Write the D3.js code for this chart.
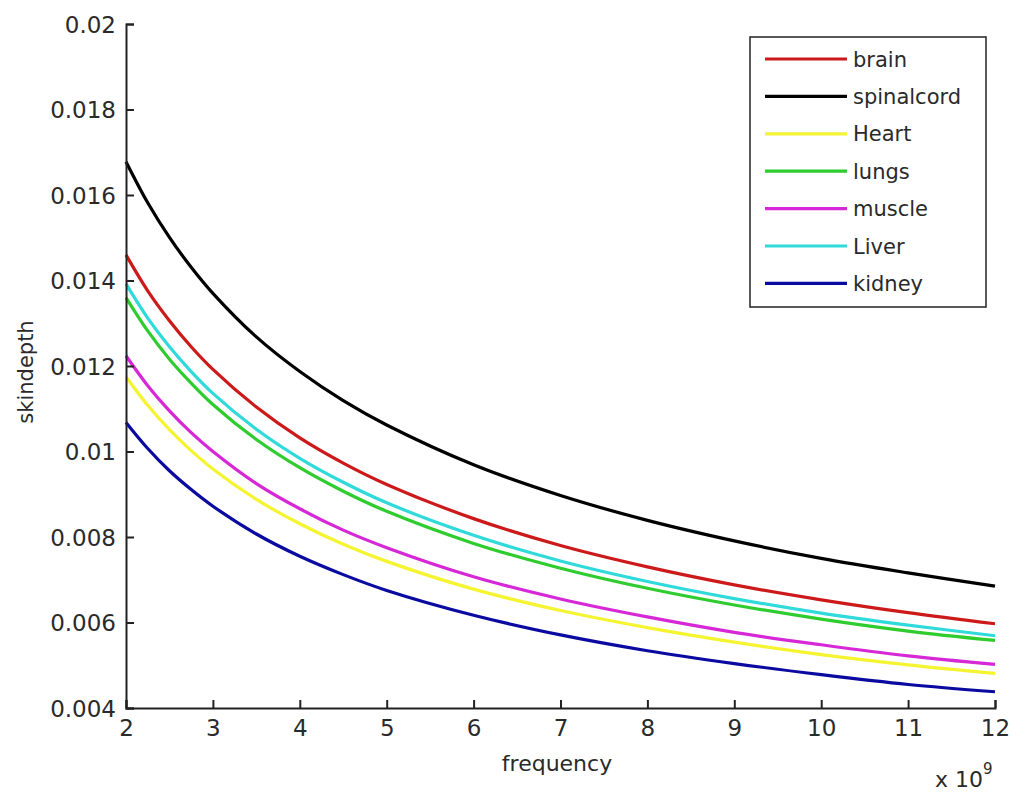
<!DOCTYPE html>
<html><head><meta charset="utf-8">
<script src="https://cdn.jsdelivr.net/npm/d3@7"></script>
<style>body{margin:0;background:#fff}svg{display:block}text{font-family:"DejaVu Sans",sans-serif;fill:#2a2a2a}</style>
</head><body>
<script>
const frequency  = [2,2.25,2.5,2.75,3,3.5,4,4.5,5,6,7,8,9,10,11,12];
const brain      = [0.01460,0.01376,0.01306,0.01245,0.01192,0.01104,0.01032,0.00973,0.00923,0.00843,0.00780,0.00730,0.00688,0.00653,0.00623,0.00597];
const spinalcord = [0.01678,0.01582,0.01501,0.01431,0.01370,0.01268,0.01187,0.01119,0.01062,0.00969,0.00897,0.00839,0.00791,0.00750,0.00716,0.00685];
const heart      = [0.01175,0.01108,0.01051,0.01002,0.00959,0.00888,0.00831,0.00783,0.00743,0.00678,0.00628,0.00588,0.00554,0.00525,0.00501,0.00481];
const lungs      = [0.01360,0.01282,0.01216,0.01160,0.01110,0.01028,0.00962,0.00907,0.00860,0.00785,0.00727,0.00680,0.00641,0.00608,0.00580,0.00558];
const muscle     = [0.01224,0.01154,0.01095,0.01044,0.01000,0.00925,0.00866,0.00816,0.00775,0.00707,0.00655,0.00613,0.00577,0.00548,0.00522,0.00502];
const liver      = [0.01392,0.01312,0.01245,0.01187,0.01136,0.01052,0.00984,0.00928,0.00880,0.00804,0.00744,0.00696,0.00656,0.00622,0.00594,0.00569];
const kidney     = [0.01068,0.01007,0.00955,0.00911,0.00872,0.00807,0.00755,0.00712,0.00675,0.00617,0.00571,0.00534,0.00504,0.00478,0.00455,0.00438];
const seriesNames = ["brain","spinalcord","Heart","lungs","muscle","Liver","kidney"];
const seriesColors = ["#cc1a1a","#000000","#f4f430","#2ecc2e","#d628d6","#30dada","#0a0aa0"];
const seriesValues = [brain,spinalcord,heart,lungs,muscle,liver,kidney];
const xTicks = [2,3,4,5,6,7,8,9,10,11,12];
const yTicks = [0.004,0.006,0.008,0.01,0.012,0.014,0.016,0.018,0.02];
const yTickLabels = ["0.004","0.006","0.008","0.01","0.012","0.014","0.016","0.018","0.02"];

const W=1009,H=792;
const svg=d3.select("body").append("svg").attr("width",W).attr("height",H);
const L=126,R=995,T=24,B=708;
const x=d3.scaleLinear().domain([2,12]).range([L,R]);
const y=d3.scaleLinear().domain([0.004,0.02]).range([B,T]);

const line=d3.line().x((d,i)=>x(frequency[i])).y(d=>y(d)).curve(d3.curveCatmullRom);

const g=svg.append("g");
seriesValues.forEach((vals,k)=>{
  g.append("path").attr("d",line(vals)).attr("fill","none")
   .attr("stroke",seriesColors[k]).attr("stroke-width",3.2);
});

// axes
const xAxis=d3.axisBottom(x).tickValues(xTicks).tickSize(-8).tickPadding(12).tickFormat(d3.format("d"));
const yAxis=d3.axisLeft(y).tickValues(yTicks).tickSize(-8).tickPadding(10).tickFormat((d,i)=>yTickLabels[i]);
const gx=svg.append("g").attr("transform",`translate(0,${B})`).call(xAxis);
const gy=svg.append("g").attr("transform",`translate(${L},0)`).call(yAxis);
[gx,gy].forEach(a=>{
  a.select(".domain").attr("stroke","#222").attr("stroke-width",2);
  a.selectAll(".tick line").attr("stroke","#222").attr("stroke-width",2);
  a.selectAll(".tick text").attr("font-size",23).attr("font-family","DejaVu Sans, sans-serif").attr("fill","#2a2a2a");
});
gy.selectAll(".tick text").attr("dy","0.36em");

// axis labels
svg.append("text").attr("x",557).attr("y",771).attr("text-anchor","middle").attr("font-size",22).text("frequency");
svg.append("text").attr("transform","translate(33,372) rotate(-90)").attr("text-anchor","middle").attr("font-size",21).text("skindepth");
const ex=svg.append("text").attr("x",935).attr("y",787).attr("font-size",22);
ex.append("tspan").text("x 10");
ex.append("tspan").attr("dy",-13).attr("font-size",15).text("9");

// legend
const lg=svg.append("g");
lg.append("rect").attr("x",750).attr("y",37).attr("width",236).attr("height",270)
  .attr("fill","#fff").attr("stroke","#222").attr("stroke-width",1.5);
seriesNames.forEach((n,k)=>{
  const yy=59+k*37.4;
  lg.append("line").attr("x1",765).attr("x2",847).attr("y1",yy).attr("y2",yy)
    .attr("stroke",seriesColors[k]).attr("stroke-width",3.2);
  lg.append("text").attr("x",853).attr("y",yy).attr("dy","0.36em").attr("font-size",21).text(n);
});
</script>
</body></html>
